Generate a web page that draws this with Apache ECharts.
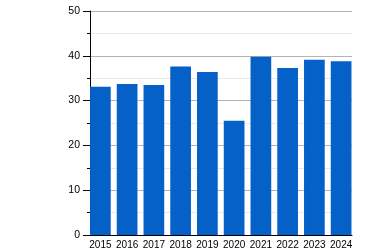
<!DOCTYPE html>
<html><head><meta charset="utf-8">
<script src="https://cdn.jsdelivr.net/npm/echarts@6/dist/echarts.min.js"></script>
<style>html,body{margin:0;padding:0;background:#fff}#c{width:366px;height:250px}</style>
</head><body><div id="c"></div>
<script>
var categories = ['2015','2016','2017','2018','2019','2020','2021','2022','2023','2024'];
var values = [33.1, 33.7, 33.5, 37.6, 36.4, 25.5, 39.8, 37.3, 39.1, 38.8];
var yMin = 0, yMax = 50, yStep = 10;

var chart = echarts.init(document.getElementById('c'), null, {renderer:'canvas'});
var font = 'Liberation Sans, Arial, sans-serif';
chart.setOption({
  animation: false,
  grid: [
    {left: 87, right: 11.5, top: 11, bottom: 15},
    {left: 90, right: 14, top: 11, bottom: 15}
  ],
  xAxis: [
    {type: 'category', gridIndex: 0, data: categories,
     axisLine: {show: false}, axisTick: {show: false},
     axisLabel: {color: '#000', fontSize: 10, fontFamily: font, margin: 5, interval: 0}},
    {type: 'value', gridIndex: 1, min: 0, max: 1, show: true,
     axisLine: {show: true, onZero: false, lineStyle: {color: '#000', width: 1}},
     axisTick: {show: false}, axisLabel: {show: false}, splitLine: {show: false}}
  ],
  yAxis: [
    {type: 'value', gridIndex: 0, min: yMin, max: yMax, interval: yStep, show: false},
    {type: 'value', gridIndex: 1, min: yMin, max: yMax, interval: yStep,
     axisLine: {show: true, lineStyle: {color: '#000', width: 1}},
     axisTick: {show: true, length: 7, lineStyle: {color: '#000'}},
     minorTick: {show: true, splitNumber: 2, length: 3, lineStyle: {color: '#000'}},
     axisLabel: {color: '#000', fontSize: 10.5, fontFamily: font, margin: 10},
     splitLine: {show: true, lineStyle: {color: '#b4b4b4', width: 1}},
     minorSplitLine: {show: true, lineStyle: {color: '#e8e8e8', width: 1}}}
  ],
  series: [{
    type: 'bar', xAxisIndex: 0, yAxisIndex: 0, data: values,
    barWidth: 20.7, itemStyle: {color: '#0560c8'}, z: 3
  }]
});
</script></body></html>
